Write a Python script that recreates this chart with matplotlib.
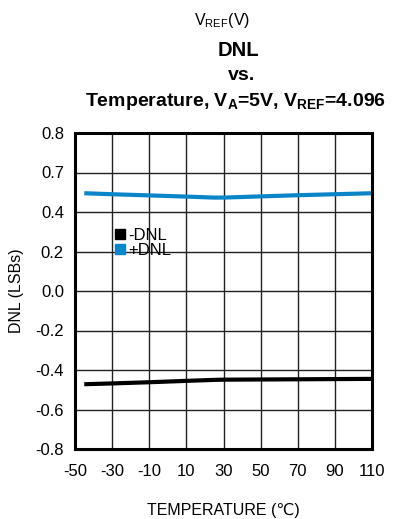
import matplotlib
matplotlib.use("Agg")
import matplotlib.pyplot as plt
from matplotlib.lines import Line2D

plt.rcParams['font.family'] = ['Liberation Sans', 'DejaVu Sans']
plt.rcParams['mathtext.default'] = 'regular'

# данные
temp = [-45, -30, -10, 10, 25, 30, 50, 70, 90, 110]
dnl_plus = [0.495, 0.490, 0.484, 0.478, 0.473, 0.473, 0.479, 0.485, 0.490, 0.495]
dnl_minus = [-0.472, -0.468, -0.462, -0.455, -0.450, -0.449, -0.448, -0.447, -0.446, -0.445]
xticks = [-50, -30, -10, 10, 30, 50, 70, 90, 110]
yticks = [0.8, 0.6, 0.4, 0.2, 0.0, -0.2, -0.4, -0.6, -0.8]
ylabels = ["0.8", "0.7", "0.4", "0.2", "0.0", "-0.2", "-0.4", "-0.6", "-0.8"]
blue = "#0a86c8"

fig = plt.figure(figsize=(4.03, 5.19), dpi=100)
ax = fig.add_axes([75 / 403, 1 - 449 / 519, 297 / 403, 316 / 519])

ax.plot(temp, dnl_minus, color="black", lw=3, label="-DNL", solid_capstyle='butt')
ax.plot(temp, dnl_plus, color=blue, lw=3, label="+DNL", solid_capstyle='butt')

ax.set_xlim(-50, 110)
ax.set_ylim(-0.8, 0.8)
ax.set_xticks(xticks)
ax.set_xticklabels([str(t) for t in xticks])
ax.set_yticks(yticks)
ax.set_yticklabels(ylabels)
ax.tick_params(axis='x', length=0, labelsize=12, pad=11)
ax.tick_params(axis='y', length=0, labelsize=12, pad=8)
ax.grid(color="#222222", lw=1)
ax.set_axisbelow(True)
for s in ax.spines.values():
    s.set_linewidth(2.2)

ax.set_xlabel("TEMPERATURE (℃)", fontsize=11.5, labelpad=17)
ax.set_ylabel("DNL (LSBs)", fontsize=11.5, labelpad=8)

# условные обозначения
h = [Line2D([], [], marker='s', ls='none', color="black", markersize=7),
     Line2D([], [], marker='s', ls='none', color=blue, markersize=7)]
ax.legend(h, ["-DNL", "+DNL"], loc='upper left', bbox_to_anchor=(0.105, 0.725),
          frameon=False, fontsize=12, handlelength=0.6, handletextpad=0.2,
          labelspacing=0.0, borderpad=0)

# заголовок
fig.text(222 / 403, 1 - 20 / 519, r"V$_{REF}$(V)", ha='center', va='center', fontsize=11.5)
fig.text(238 / 403, 1 - 50 / 519, "DNL", ha='center', va='center', fontsize=14.5, weight='bold')
fig.text(242 / 403, 1 - 76 / 519, "vs.", ha='center', va='center', fontsize=14, weight='bold')
fig.text(236 / 403, 1 - 102 / 519, r"Temperature, V$_A$=5V, V$_{REF}$=4.096",
         ha='center', va='center', fontsize=14, weight='bold')

fig.savefig("out.png", dpi=100)
